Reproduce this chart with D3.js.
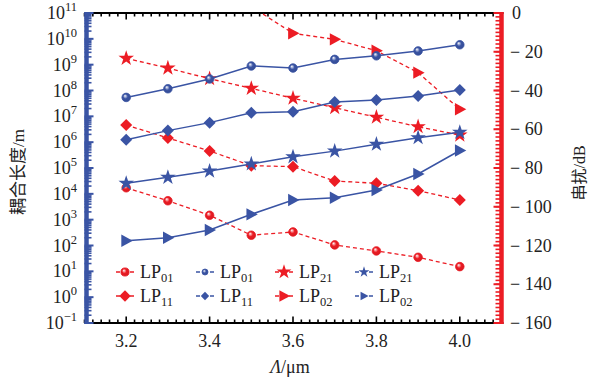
<!DOCTYPE html>
<html><head><meta charset="utf-8">
<script src="https://cdn.jsdelivr.net/npm/d3@7"></script>
<style>
body{margin:0;background:#fff;}
text{font-family:'Liberation Serif',serif;}
</style></head>
<body><svg id="c" width="589" height="381"></svg>
<script>
// ---- data ----
const lambda = [3.2, 3.3, 3.4, 3.5, 3.6, 3.7, 3.8, 3.9, 4.0];
// coupling length (m), left axis, blue solid
const lenLP01 = [5.4e7, 1.17e8, 2.8e8, 8.9e8, 7.4e8, 1.6e9, 2.2e9, 3.4e9, 5.9e9];
const lenLP11 = [1.24e6, 2.8e6, 5.7e6, 1.38e7, 1.5e7, 3.6e7, 4.3e7, 6.1e7, 1.04e8];
const lenLP21 = [2.55e4, 4.35e4, 7.6e4, 1.43e5, 2.7e5, 4.5e5, 8.3e5, 1.49e6, 2.4e6];
const lenLP02 = [153, 200, 397, 1610, 5750, 7060, 1.4e4, 5.85e4, 4.75e5];
// crosstalk (dB), right axis, red dashed
const xtLP01 = [-90.2, -96.9, -104.4, -114.7, -113.0, -119.7, -122.8, -126.1, -130.9];
const xtLP11 = [-57.8, -64.5, -71.2, -78.8, -79.3, -86.7, -87.9, -91.7, -96.5];
const xtLP21 = [-23.4, -28.4, -33.9, -38.9, -44.0, -48.9, -53.8, -58.7, -63.0];
const xtLP02 = [null, null, null, 3.3, -10.5, -13.6, -19.5, -30.8, -49.7];
const xTicks = [3.2, 3.4, 3.6, 3.8, 4.0];
const leftExp = [-1, 0, 1, 2, 3, 4, 5, 6, 7, 8, 9, 10, 11];
const rightTicks = [0, -20, -40, -60, -80, -100, -120, -140, -160];

const RED = "#ec1c24", BLUE = "#3a54a4";
const svg = d3.select("#c");
const L = 84.5, R = 501.5, T = 13, B = 323;
const x = d3.scaleLinear().domain([3.1, 4.1]).range([L, R]);
const yL = d3.scaleLog().domain([1e-1, 1e11]).range([B, T]);
const yR = d3.scaleLinear().domain([-160, 0]).range([B, T]);

const defs = svg.append("defs");
defs.append("clipPath").attr("id", "clip").append("rect")
  .attr("x", L).attr("y", T).attr("width", R - L).attr("height", B - T);
function grad(id, c) {
  const g = defs.append("radialGradient").attr("id", id)
    .attr("cx", "0.5").attr("cy", "0.5").attr("r", "0.6").attr("fx", "0.35").attr("fy", "0.3");
  g.append("stop").attr("offset", "0").attr("stop-color", "#fff");
  g.append("stop").attr("offset", "0.45").attr("stop-color", c);
  g.append("stop").attr("offset", "1").attr("stop-color", d3.color(c).darker(0.4));
}
grad("gR", RED); grad("gB", BLUE);

// ---- axes frame ----
const minorX = d3.range(3.1, 4.1001, 0.02).map(v => +v.toFixed(2));
[T, B].forEach(yy => {
  const dir = yy === T ? 1 : -1;
  svg.append("line").attr("x1", L).attr("x2", R + 2).attr("y1", yy).attr("y2", yy)
    .attr("stroke", "#000").attr("stroke-width", 2);
  minorX.forEach(v => {
    const major = xTicks.some(t => Math.abs(t - v) < 1e-6);
    svg.append("line").attr("x1", x(v)).attr("x2", x(v))
      .attr("y1", yy).attr("y2", yy + dir * (major ? 6.5 : 3.5))
      .attr("stroke", "#000").attr("stroke-width", 1.6);
  });
});
svg.append("g").selectAll("text").data(xTicks).join("text")
  .attr("x", d => x(d)).attr("y", 347).attr("text-anchor", "middle")
  .attr("font-size", 18).attr("fill", "#222").text(d => d.toFixed(1));

// left axis (blue)
const minorL = [];
for (let e = -1; e < 11; e++) for (let m = 2; m <= 9; m++) minorL.push(m * Math.pow(10, e));
svg.append("g").selectAll("line").data(minorL).join("line")
  .attr("x1", L).attr("x2", L + 7).attr("y1", d => yL(d)).attr("y2", d => yL(d))
  .attr("stroke", BLUE).attr("stroke-width", 1.6);
svg.append("g").selectAll("line").data(leftExp).join("line")
  .attr("x1", L).attr("x2", L + 9).attr("y1", d => yL(Math.pow(10, d))).attr("y2", d => yL(Math.pow(10, d)))
  .attr("stroke", BLUE).attr("stroke-width", 2);
svg.append("line").attr("x1", L + 2).attr("x2", L + 2).attr("y1", T - 1).attr("y2", B + 1)
  .attr("stroke", BLUE).attr("stroke-width", 4.5);
const lt = svg.append("g").selectAll("text").data(leftExp).join("text")
  .attr("x", 77).attr("y", d => yL(Math.pow(10, d)) + 6).attr("text-anchor", "end")
  .attr("font-size", 18).attr("fill", "#222");
lt.append("tspan").text("10");
lt.append("tspan").attr("dy", -8).attr("font-size", 12.5).text(d => d < 0 ? "−" + (-d) : d);

// right axis (red)
const minorR = d3.range(-160, 1, 2);
svg.append("g").selectAll("line").data(minorR).join("line")
  .attr("x1", R).attr("x2", R - 6).attr("y1", d => yR(d)).attr("y2", d => yR(d))
  .attr("stroke", RED).attr("stroke-width", 1.6);
svg.append("g").selectAll("line").data(rightTicks).join("line")
  .attr("x1", R).attr("x2", R - 8).attr("y1", d => yR(d)).attr("y2", d => yR(d))
  .attr("stroke", RED).attr("stroke-width", 2);
svg.append("line").attr("x1", R).attr("x2", R).attr("y1", T - 1).attr("y2", B + 1)
  .attr("stroke", RED).attr("stroke-width", 4.5);
svg.append("g").selectAll("text").data(rightTicks).join("text")
  .attr("x", d => d === 0 ? 512 : 510).attr("y", d => yR(d) + 6)
  .attr("font-size", 18).attr("fill", "#222")
  .text(d => d === 0 ? "0" : "− " + (-d));

// axis titles
svg.append("text").attr("transform", "translate(24,172) rotate(-90)")
  .attr("text-anchor", "middle").attr("font-size", 17).attr("fill", "#222")
  .html('<tspan style="font-family:\'Noto Sans CJK SC\'">耦合长度</tspan><tspan>/m</tspan>');
svg.append("text").attr("transform", "translate(585,173) rotate(-90)")
  .attr("text-anchor", "middle").attr("font-size", 16).attr("fill", "#222")
  .html('<tspan style="font-family:\'Noto Sans CJK SC\'">串扰</tspan><tspan>/dB</tspan>');
svg.append("text").attr("x", 290).attr("y", 373).attr("text-anchor", "middle")
  .attr("font-size", 18).attr("fill", "#222")
  .html('<tspan font-style="italic">Λ</tspan><tspan>/μm</tspan>');

// ---- marker shapes ----
function marker(g, type, cx, cy, c, gid, s) {
  if (type === "circle") {
    g.append("circle").attr("cx", cx).attr("cy", cy).attr("r", 4.3 * s)
      .attr("fill", `url(#${gid})`).attr("stroke", c).attr("stroke-width", 0.8);
  } else if (type === "diamond") {
    const r = 6 * s;
    g.append("path").attr("d", `M${cx},${cy - r}L${cx + r},${cy}L${cx},${cy + r}L${cx - r},${cy}Z`).attr("fill", c);
  } else if (type === "star") {
    g.append("path").attr("transform", `translate(${cx},${cy})`)
      .attr("d", d3.symbol(d3.symbolStar, 75 * s * s)()).attr("fill", c);
  } else if (type === "tri") {
    const r = 6.5 * s;
    g.append("path").attr("d", `M${cx + r},${cy}L${cx - r * 0.75},${cy - r * 0.95}L${cx - r * 0.75},${cy + r * 0.95}Z`).attr("fill", c);
  }
}

const series = [
  {vals: xtLP01, axis: "R", c: RED, g: "gR", m: "circle"},
  {vals: xtLP11, axis: "R", c: RED, g: "gR", m: "diamond"},
  {vals: xtLP21, axis: "R", c: RED, g: "gR", m: "star"},
  {vals: xtLP02, axis: "R", c: RED, g: "gR", m: "tri"},
  {vals: lenLP01, axis: "L", c: BLUE, g: "gB", m: "circle"},
  {vals: lenLP11, axis: "L", c: BLUE, g: "gB", m: "diamond"},
  {vals: lenLP21, axis: "L", c: BLUE, g: "gB", m: "star"},
  {vals: lenLP02, axis: "L", c: BLUE, g: "gB", m: "tri"},
];
const plot = svg.append("g").attr("clip-path", "url(#clip)");
series.forEach(s => {
  const ys = s.axis === "L" ? yL : yR;
  const pts = lambda.map((l, i) => [l, s.vals[i]]).filter(p => p[1] !== null);
  const line = d3.line().x(p => x(p[0])).y(p => ys(p[1]));
  plot.append("path").attr("d", line(pts)).attr("fill", "none").attr("stroke", s.c)
    .attr("stroke-width", s.axis === "L" ? 1.5 : 1.3)
    .attr("stroke-dasharray", s.axis === "L" ? null : "4,3");
  pts.forEach(p => marker(plot, s.m, x(p[0]), ys(p[1]), s.c, s.g, 1));
});

// ---- legend ----
const legNames = [["LP", "01"], ["LP", "01"], ["LP", "21"], ["LP", "21"], ["LP", "11"], ["LP", "11"], ["LP", "02"], ["LP", "02"]];
const legSeries = [series[0], series[4], series[2], series[6], series[1], series[5], series[3], series[7]];
const colX = [125, 205, 284, 364], rowY = [272, 296];
legSeries.forEach((s, i) => {
  const cx = colX[i % 4], cy = rowY[Math.floor(i / 4)];
  const g = svg.append("g");
  g.append("line").attr("x1", cx - 9).attr("x2", cx + 9).attr("y1", cy).attr("y2", cy)
    .attr("stroke", s.c).attr("stroke-width", 1.5).attr("stroke-dasharray", "4,3");
  marker(g, s.m, cx, cy, s.c, s.g, s.axis === "L" ? 0.7 : 0.95);
  const t = g.append("text").attr("x", cx + 15).attr("y", cy + 6).attr("font-size", 18).attr("fill", "#222");
  t.append("tspan").text(legNames[i][0]);
  t.append("tspan").attr("dy", 4).attr("font-size", 12.5).text(legNames[i][1]);
});
</script></body></html>
